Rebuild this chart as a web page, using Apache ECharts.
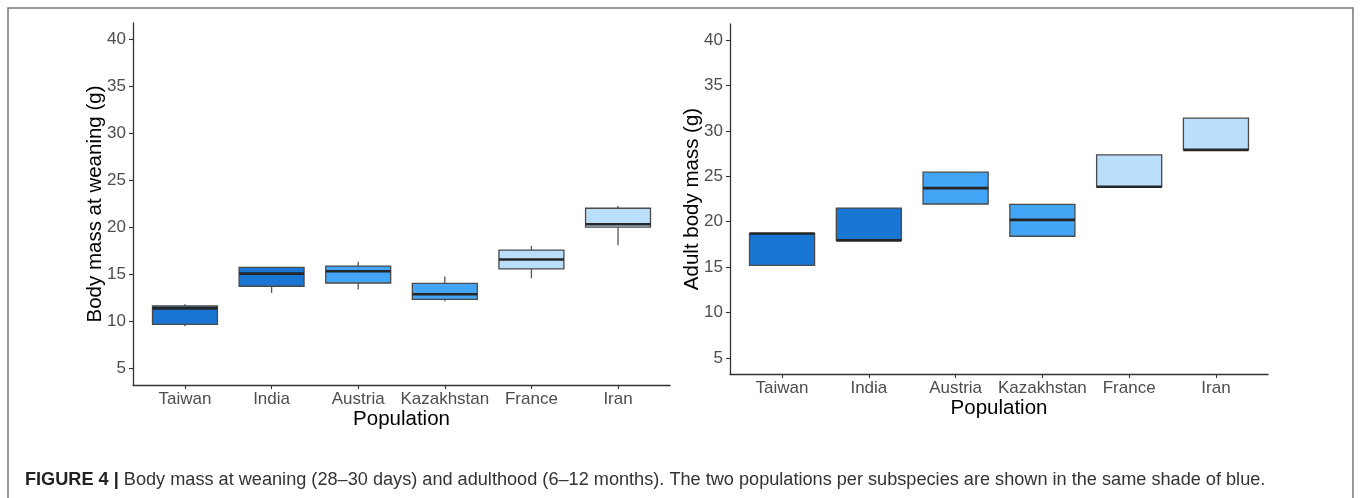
<!DOCTYPE html>
<html>
<head>
<meta charset="utf-8">
<script src="https://cdn.jsdelivr.net/npm/echarts@6/dist/echarts.min.js"></script>
<style>
  html, body { margin: 0; padding: 0; background: #fff; }
  #chart { width: 1360px; height: 498px; }
</style>
</head>
<body>
<div id="chart"></div>
<script>
// Populations, in plotting order
const populations = ['Taiwan', 'India', 'Austria', 'Kazakhstan', 'France', 'Iran'];
// Fill shade per population (one shade per subspecies)
const shades = ['#1976D2', '#1976D2', '#42A5F5', '#42A5F5', '#BBDEFB', '#BBDEFB'];
// Weaning body mass (g): [min, Q1, median, Q3, max]
const weaningTaiwan     = [9.5, 9.7, 11.4, 11.65, 11.85];
const weaningIndia      = [13.05, 13.75, 15.1, 15.75, 15.75];
const weaningAustria    = [13.4, 14.1, 15.35, 15.9, 16.35];
const weaningKazakhstan = [12.15, 12.35, 12.9, 14.05, 14.8];
const weaningFrance     = [14.6, 15.6, 16.6, 17.6, 18.05];
const weaningIran       = [18.1, 20.05, 20.35, 22.05, 22.3];
// Adult body mass (g): [min, Q1, median, Q3, max]
const adultTaiwan     = [15.2, 15.2, 18.7, 18.7, 18.7];
const adultIndia      = [17.95, 17.95, 17.95, 21.5, 21.5];
const adultAustria    = [21.95, 21.95, 23.7, 25.45, 25.45];
const adultKazakhstan = [18.4, 18.4, 20.2, 21.9, 21.9];
const adultFrance     = [23.85, 23.85, 23.85, 27.35, 27.35];
const adultIran       = [27.9, 27.9, 27.9, 31.4, 31.4];
// Axis tick values
const yTicks = [5, 10, 15, 20, 25, 30, 35, 40];
const xTicks = [1, 2, 3, 4, 5, 6];

const weaning = [weaningTaiwan, weaningIndia, weaningAustria, weaningKazakhstan, weaningFrance, weaningIran];
const adult = [adultTaiwan, adultIndia, adultAustria, adultKazakhstan, adultFrance, adultIran];

const FONT = '"Liberation Sans", Arial, Helvetica, sans-serif';

function toRows(stats) {
  return stats.map((s, i) => [i + 1].concat(s));
}

// ggplot-style box: whiskers without caps, thick median line
function renderBox(params, api) {
  const x = api.value(0);
  const lo = api.coord([x, api.value(1)]);
  const q1 = api.coord([x, api.value(2)]);
  const md = api.coord([x, api.value(3)]);
  const q3 = api.coord([x, api.value(4)]);
  const hi = api.coord([x, api.value(5)]);
  const half = api.size([0.75, 0])[0] / 2;
  const cx = md[0];
  const fill = shades[params.dataIndex];
  const children = [];
  if (hi[1] < q3[1] - 0.5) {
    children.push({ type: 'line', shape: { x1: cx, y1: q3[1], x2: cx, y2: hi[1] },
      style: { stroke: '#555', lineWidth: 1.3 } });
  }
  if (lo[1] > q1[1] + 0.5) {
    children.push({ type: 'line', shape: { x1: cx, y1: q1[1], x2: cx, y2: lo[1] },
      style: { stroke: '#555', lineWidth: 1.3 } });
  }
  children.push({ type: 'rect',
    shape: { x: cx - half, y: q3[1], width: half * 2, height: q1[1] - q3[1] },
    style: { fill: fill, stroke: '#4a4a4a', lineWidth: 1.3 } });
  children.push({ type: 'line',
    shape: { x1: cx - half, y1: md[1], x2: cx + half, y2: md[1] },
    style: { stroke: '#262626', lineWidth: 2.6 } });
  return { type: 'group', children: children };
}

function xAxisDef(gridIndex) {
  return {
    type: 'value', gridIndex: gridIndex, min: 0.4, max: 6.6,
    name: 'Population', nameLocation: 'middle', nameGap: 24, nameMoveOverlap: false,
    nameTextStyle: { fontFamily: FONT, fontSize: 20.5, color: '#000' },
    axisLine: { show: true, lineStyle: { color: '#333', width: 1.3 } },
    axisTick: { show: true, length: 4, customValues: xTicks, lineStyle: { color: '#333', width: 1.1 } },
    axisLabel: { customValues: xTicks, margin: 6, fontFamily: FONT, fontSize: 17, color: '#4d4d4d',
      formatter: v => populations[Math.round(v) - 1] || '' },
    splitLine: { show: false }
  };
}

function yAxisDef(gridIndex, title) {
  return {
    type: 'value', gridIndex: gridIndex, min: 3.25, max: 41.75,
    name: title, nameLocation: 'middle', nameRotate: 90, nameGap: 27, nameMoveOverlap: false,
    nameTextStyle: { fontFamily: FONT, fontSize: 20.5, color: '#000' },
    axisLine: { show: true, lineStyle: { color: '#333', width: 1.3 } },
    axisTick: { show: true, length: 4, customValues: yTicks, lineStyle: { color: '#333', width: 1.1 } },
    axisLabel: { customValues: yTicks, margin: 7, fontFamily: FONT, fontSize: 17, color: '#4d4d4d' },
    splitLine: { show: false }
  };
}

const chart = echarts.init(document.getElementById('chart'), null, { renderer: 'canvas' });
chart.setOption({
  backgroundColor: '#fff',
  animation: false,
  grid: [
    { left: 133, right: 690, top: 23, bottom: 113 },
    { left: 730, right: 92, top: 24, bottom: 124 }
  ],
  xAxis: [xAxisDef(0), xAxisDef(1)],
  yAxis: [yAxisDef(0, 'Body mass at weaning (g)'), yAxisDef(1, 'Adult body mass (g)')],
  series: [
    { type: 'custom', xAxisIndex: 0, yAxisIndex: 0, renderItem: renderBox,
      encode: { x: 0, y: [1, 2, 3, 4, 5] }, data: toRows(weaning) },
    { type: 'custom', xAxisIndex: 1, yAxisIndex: 1, renderItem: renderBox,
      encode: { x: 0, y: [1, 2, 3, 4, 5] }, data: toRows(adult) }
  ],
  graphic: [
    { type: 'rect', silent: true, z: -1,
      shape: { x: 8, y: 8, width: 1345, height: 520 },
      style: { fill: 'none', stroke: '#777', lineWidth: 1.5 } },
    { type: 'text', left: 25, top: 471,
      style: {
        text: '{b|FIGURE 4 |} Body mass at weaning (28–30 days) and adulthood (6–12 months). The two populations per subspecies are shown in the same shade of blue.',
        fontFamily: FONT, fontSize: 18.15, fill: '#333',
        rich: { b: { fontFamily: FONT, fontSize: 18.15, fontWeight: 'bold', fill: '#222' } }
      } }
  ]
});
</script>
</body>
</html>
